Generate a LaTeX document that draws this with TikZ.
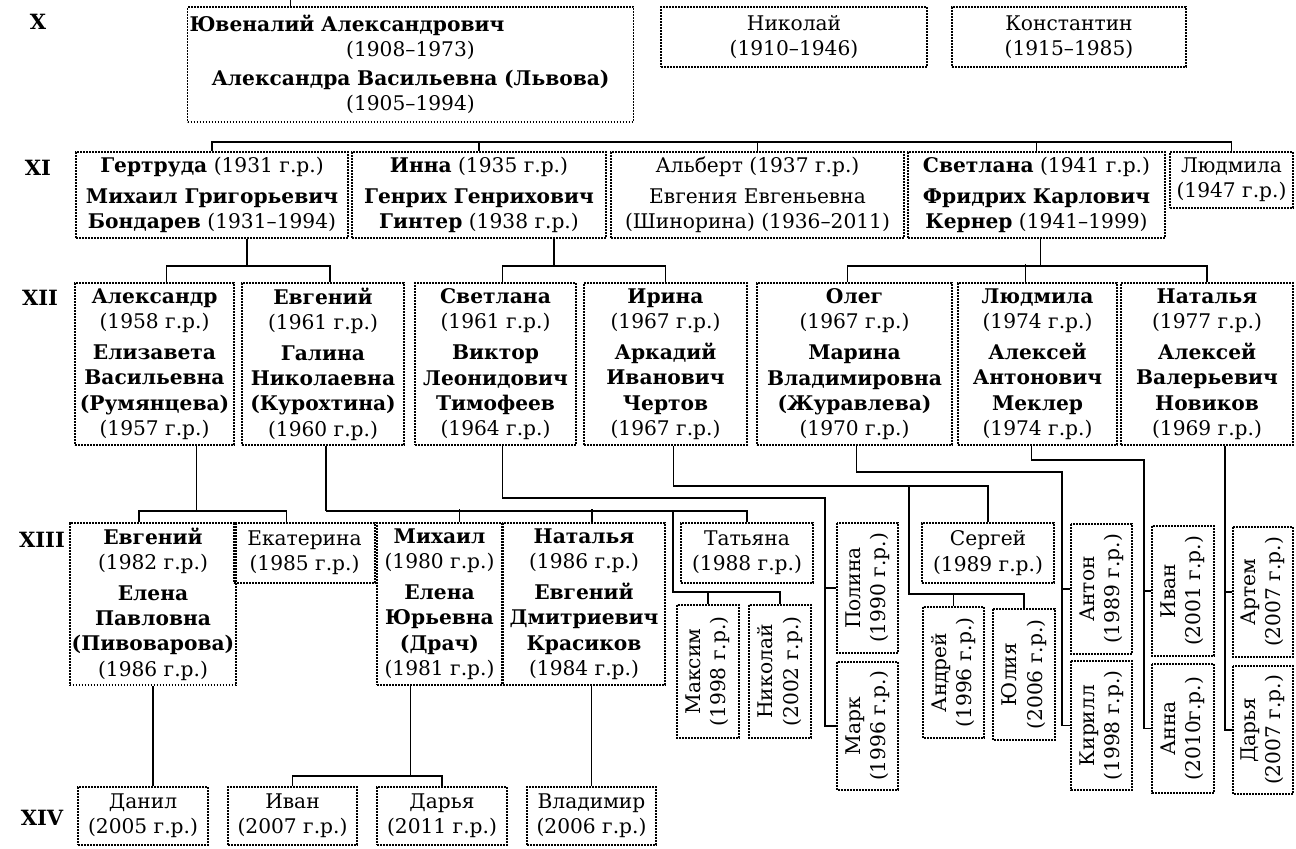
\documentclass[tikz,border=0pt]{standalone}
\usepackage{fontspec}
\setmainfont{DejaVu Serif}
\usetikzlibrary{calc}
\tikzset{
  person/.style={draw=black, line width=0.9pt, dash pattern=on 0.8pt off 0.7pt,
    align=center, inner sep=1pt, font=\fontsize{10.1}{12.6}\selectfont},
  gen label/.style={font=\fontsize{10.5}{12}\selectfont\bfseries},
  link/.style={line width=0.8pt}
}
\def\Person#1#2#3#4#5#6{%
  \node[person, minimum width=#4*0.5pt, minimum height=#5*0.5pt] (#1) at (#2,#3) {#6};}
\def\Kid#1#2#3#4#5#6{%
  \node[person, rotate=90, minimum width=#5*0.5pt, minimum height=#4*0.5pt] (#1) at (#2,#3) {#6};}

\begin{document}
\begin{tikzpicture}[x=0.5pt, y=-0.5pt]
\useasboundingbox (0,0) rectangle (1296,848);

% generations
\node[gen label] (genX) at (38,22) {X};
\node[gen label] (genXI) at (38,168) {XI};
\node[gen label] (genXII) at (40,298) {XII};
\node[gen label] (genXIII) at (42,540) {XIII};
\node[gen label] (genXIV) at (42,818) {XIV};

% X
\node[person, text width=221pt, minimum height=115*0.5pt] (yuv) at (410.5,64.5)
  {\textbf{Ювеналий Александрович}\hfill\null\\ (1908–1973)\\[2pt]
   \textbf{Александра Васильевна (Львова)}\\ (1905–1994)};
\Person{nikolayX}{794}{37}{266}{60}{Николай\\(1910–1946)}
\Person{konst}{1069}{37}{234}{60}{Константин\\(1915–1985)}

% XI
\Person{gertruda}{212}{195}{272}{86}{\textbf{Гертруда} (1931 г.р.)\\[3pt]\textbf{Михаил Григорьевич}\\\textbf{Бондарев} (1931–1994)}
\Person{inna}{479}{195}{254}{86}{\textbf{Инна} (1935 г.р.)\\[3pt]\textbf{Генрих Генрихович}\\\textbf{Гинтер} (1938 г.р.)}
\Person{albert}{757.5}{195}{293}{86}{Альберт (1937 г.р.)\\[3pt]Евгения Евгеньевна\\(Шинорина) (1936–2011)}
\Person{svetlanaXI}{1036.5}{195}{257}{86}{\textbf{Светлана} (1941 г.р.)\\[3pt]\textbf{Фридрих Карлович}\\\textbf{Кернер} (1941–1999)}
\Person{ludmilaXI}{1231.5}{180}{123}{56}{Людмила\\(1947 г.р.)}

% XII
\Person{alexandr}{154.5}{364}{159}{162}{\textbf{Александр}\\(1958 г.р.)\\[3pt]\textbf{Елизавета}\\\textbf{Васильевна}\\\textbf{(Румянцева)}\\(1957 г.р.)}
\Person{evgeniyXII}{323}{364}{162}{162}{\textbf{Евгений}\\(1961 г.р.)\\[3pt]\textbf{Галина}\\\textbf{Николаевна}\\\textbf{(Курохтина)}\\(1960 г.р.)}
\Person{svetlanaXII}{495.5}{364}{161}{162}{\textbf{Светлана}\\(1961 г.р.)\\[3pt]\textbf{Виктор}\\\textbf{Леонидович}\\\textbf{Тимофеев}\\(1964 г.р.)}
\Person{irina}{665.5}{364}{163}{162}{\textbf{Ирина}\\(1967 г.р.)\\[3pt]\textbf{Аркадий}\\\textbf{Иванович}\\\textbf{Чертов}\\(1967 г.р.)}
\Person{oleg}{854.5}{364}{195}{162}{\textbf{Олег}\\(1967 г.р.)\\[3pt]\textbf{Марина}\\\textbf{Владимировна}\\\textbf{(Журавлева)}\\(1970 г.р.)}
\Person{ludmilaXII}{1037.5}{364}{159}{162}{\textbf{Людмила}\\(1974 г.р.)\\[3pt]\textbf{Алексей}\\\textbf{Антонович}\\\textbf{Меклер}\\(1974 г.р.)}
\Person{nataliaXII}{1207}{364}{172}{162}{\textbf{Наталья}\\(1977 г.р.)\\[3pt]\textbf{Алексей}\\\textbf{Валерьевич}\\\textbf{Новиков}\\(1969 г.р.)}

% XIII
\Person{evgeniyXIII}{153}{604}{158}{162}{\textbf{Евгений}\\(1982 г.р.)\\[3pt]\textbf{Елена}\\\textbf{Павловна}\\\textbf{(Пивоварова)}\\(1986 г.р.)}
\Person{ekaterina}{304.5}{553}{141}{60}{Екатерина\\(1985 г.р.)}
\Person{mikhail}{439.5}{604}{125}{162}{\textbf{Михаил}\\(1980 г.р.)\\[3pt]\textbf{Елена}\\\textbf{Юрьевна}\\\textbf{(Драч)}\\(1981 г.р.)}
\Person{nataliaXIII}{584}{604}{162}{162}{\textbf{Наталья}\\(1986 г.р.)\\[3pt]\textbf{Евгений}\\\textbf{Дмитриевич}\\\textbf{Красиков}\\(1984 г.р.)}
\Person{tatiana}{747}{553}{132}{60}{Татьяна\\(1988 г.р.)}
\Person{sergey}{988}{553}{132}{60}{Сергей\\(1989 г.р.)}
\Kid{maksim}{708}{671.5}{62}{133}{Максим\\(1998 г.р.)}
\Kid{nikolayXIII}{780}{671.5}{62}{133}{Николай\\(2002 г.р.)}
\Kid{polina}{867.5}{588}{61}{130}{Полина\\(1990 г.р.)}
\Kid{mark}{867.5}{726}{61}{128}{Марк\\(1996 г.р.)}
\Kid{andrey}{953.5}{672.5}{61}{131}{Андрей\\(1996 г.р.)}
\Kid{yulia}{1024}{674.5}{62}{131}{Юлия\\(2006 г.р.)}
\Kid{anton}{1101.5}{589}{61}{130}{Антон\\(1989 г.р.)}
\Kid{kirill}{1101.5}{725.5}{61}{129}{Кирилл\\(1998 г.р.)}
\Kid{ivanXIII}{1183}{591}{62}{130}{Иван\\(2001 г.р.)}
\Kid{anna}{1183}{728.5}{62}{129}{Анна\\(2010г.р.)}
\Kid{artem}{1263}{592}{60}{130}{Артем\\(2007 г.р.)}
\Kid{daryaXIII}{1263}{730}{60}{128}{Дарья\\(2007 г.р.)}

% XIV
\Person{danil}{143}{816}{130}{58}{Данил\\(2005 г.р.)}
\Person{ivanXIV}{292.5}{816}{129}{58}{Иван\\(2007 г.р.)}
\Person{daryaXIV}{442}{816}{130}{58}{Дарья\\(2011 г.р.)}
\Person{vladimir}{591.5}{816}{129}{58}{Владимир\\(2006 г.р.)}

% X -> XI
\draw[link] ($(yuv.north)+(-120,0)$) -- ++(0,-8);
\coordinate (xbar) at (0,142);
\draw[link] (gertruda.north) |- (ludmilaXI.north |- xbar) -- (ludmilaXI.north);
\foreach \n in {inna,albert,svetlanaXI}
  \draw[link] (\n.north) -- (\n.north |- xbar);

% XI -> XII
\draw[link] ($(gertruda.south)+(35,0)$) -- ++(0,27) coordinate (gb);
\draw[link] ($(alexandr.north)+(12,0)$) |- (gb) -| ($(evgeniyXII.north)+(7,0)$);
\draw[link] ($(inna.south)+(75,0)$) -- ++(0,27) coordinate (ib);
\draw[link] ($(svetlanaXII.north)+(7,0)$) |- (ib) -| (irina.north);
\draw[link] ($(svetlanaXI.south)+(4,0)$) -- ++(0,27) coordinate (sb);
\draw[link] ($(oleg.north)+(-7,0)$) |- (sb) -| (nataliaXII.north);
\draw[link] ($(ludmilaXII.north)+(-12,0)$) -- ++(0,-18);

% XII -> XIII
\draw[link] ($(alexandr.south)+(42,0)$) -- ++(0,65) coordinate (ab);
\draw[link] ($(evgeniyXIII.north)+(-14,0)$) |- (ab) -| ($(ekaterina.north)+(-18,0)$);

\draw[link] ($(evgeniyXII.south)+(3,0)$) -- ++(0,65) coordinate (eb);
\draw[link] (eb) -| (tatiana.north);
\draw[link] ($(mikhail.north)+(20,0)$) -- ++(0,-13);
\draw[link] ($(nataliaXIII.north)+(8,0)$) -- ++(0,-13);
\coordinate (mb) at (673,510);
\coordinate (mc) at (673,592);
\draw[link] (mb) |- (nikolayXIII.east |- mc) -- (nikolayXIII.east);
\draw[link] (maksim.east) -- (maksim.east |- mc);

\coordinate (sv) at (825,498);
\draw[link] ($(svetlanaXII.south)+(7,0)$) |- (sv) |- (mark.north);
\draw[link] (polina.north) -- (polina.north -| sv);

\coordinate (ia) at (909,486);
\coordinate (ic) at (909,594);
\draw[link] ($(irina.south)+(8,0)$) |- (sergey.north |- ia) -- (sergey.north);
\draw[link] (ia) |- (yulia.east |- ic) -- (yulia.east);
\draw[link] (andrey.east) -- (andrey.east |- ic);

\coordinate (ol) at (1062,472);
\draw[link] ($(oleg.south)+(2,0)$) |- (ol) |- (kirill.north);
\draw[link] (anton.north) -- (anton.north -| ol);

\coordinate (lu) at (1144,460);
\draw[link] ($(ludmilaXII.south)+(-6,0)$) |- (lu) |- (anna.north);
\draw[link] (ivanXIII.north) -- (ivanXIII.north -| lu);

\coordinate (na) at ($(nataliaXII.south)+(18,0)$);
\draw[link] (na) |- (daryaXIII.north);
\draw[link] (artem.north) -- (artem.north -| na);

% XIII -> XIV
\draw[link] (evgeniyXIII.south) -- (evgeniyXIII.south |- danil.north);
\draw[link] ($(mikhail.south)+(-29,0)$) -- ++(0,90) coordinate (mk);
\draw[link] (ivanXIV.north) |- (mk) -| (daryaXIV.north);
\draw[link] (nataliaXIII.south -| vladimir.north) -- (vladimir.north);
\end{tikzpicture}
\end{document}
